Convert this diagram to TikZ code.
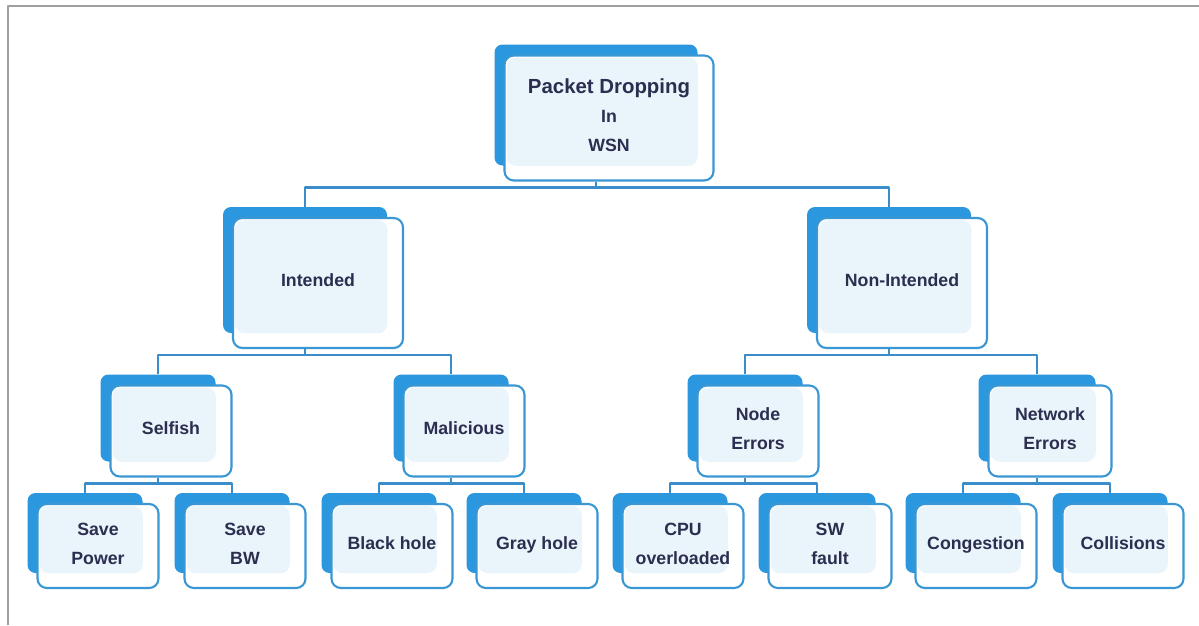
\documentclass[tikz,border=0pt]{standalone}
\usepackage{fontspec}
\setmainfont{Liberation Sans}
\usetikzlibrary{calc, positioning}
\definecolor{pdblue}{HTML}{2A97DE}
\definecolor{pdedge}{HTML}{3A97D3}
\definecolor{pdlink}{HTML}{3A8DC9}
\definecolor{pdlight}{HTML}{EAF4FB}
\definecolor{pdtext}{HTML}{2B2E4F}
\definecolor{pdframe}{HTML}{A0A0A0}

\begin{document}
\begin{tikzpicture}[x=0.75pt, y=-0.75pt, line join=round,
        backbox/.style={fill=pdblue, rounded corners=6pt, inner sep=0pt},
        frontbox/.style={draw=pdedge, line width=1.6pt, fill=white, rounded corners=7pt, inner sep=0pt},
        boxtext/.style={align=center, text=pdtext, inner sep=0pt, text depth=0pt,
            font=\bfseries\fontsize{13.3}{21.75}\selectfont},
        link/.style={draw=pdlink, line width=2.1pt}]
    \useasboundingbox (0,0) rectangle (1199,625);
    \draw[pdframe, line width=1pt] (8,625) -- (8,6) -- (1199,6);

    % boxes: name / x / y / width / height / text
    \foreach \n/\x/\y/\w/\h/\t in {
            root/596/105/203/121/{{\fontsize{15.3}{22.5}\selectfont Packet Dropping}\\In\\WSN},
            intended/305/270/164/126/{Intended},
            nonint/889/270/164/126/{Non-Intended},
            selfish/158/418/115/87/{Selfish},
            malicious/451/418/115/87/{Malicious},
            nodeerr/745/418/115/87/{Node\\Errors},
            neterr/1037/418/117/87/{Network\\Errors},
            savepower/85/533/115/80/{Save\\Power},
            savebw/232/533/115/80/{Save\\BW},
            blackhole/379/533/115/80/{Black hole},
            grayhole/524/533/115/80/{Gray hole},
            cpu/670/533/115/80/{CPU\\overloaded},
            swfault/817/533/117/80/{SW\\fault},
            congestion/963/533/115/80/{Congestion},
            collisions/1110/533/115/80/{Collisions}} {
        \node[backbox, minimum width=\w*0.75pt, minimum height=\h*0.75pt] (\n) at (\x,\y) {};
        \node[frontbox, minimum width=(\w+6)*0.75pt, minimum height=(\h+4)*0.75pt,
            path picture={\fill[pdlight] ([shift={(1.5pt,-1.5pt)}]path picture bounding box.north west)
                rectangle (\n.south east);}] (\n-f) at ($(\n)+(13,13)$) {};
        \node[boxtext] (\n-t) at ([yshift=2pt]\n-f.center) {\t};
    }

    % tree connectors
    \foreach \p/\a/\b in {root/intended/nonint, intended/selfish/malicious, nonint/nodeerr/neterr,
            selfish/savepower/savebw, malicious/blackhole/grayhole, nodeerr/cpu/swfault,
            neterr/congestion/collisions} {
        \draw[link] (\p-f.south -| \p.center) -- ++(0,6);
        \draw[link] (\a.north) |- ($(\p-f.south -| \p.center)+(0,6)$) -| (\b.north);
    }
\end{tikzpicture}
\end{document}
